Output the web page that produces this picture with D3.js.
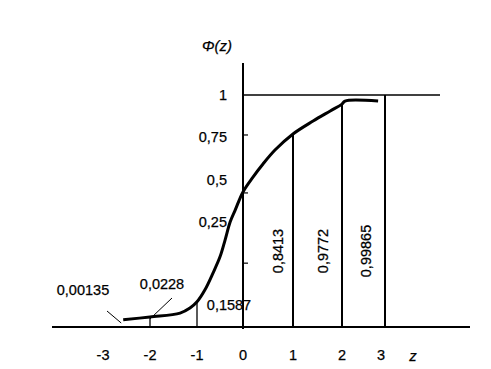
<!DOCTYPE html>
<html><head><meta charset="utf-8">
<script src="https://cdn.jsdelivr.net/npm/d3@7"></script>
<style>body{margin:0;background:#fff}svg{display:block}</style></head>
<body><svg id="c" width="491" height="369"></svg>
<script>
// ---- data ----
const xTicks = [-3, -2, -1, 0, 1, 2, 3];
const xTickLabels = ["-3", "-2", "-1", "0", "1", "2", "3"];
const yTicks = [0.25, 0.5, 0.75, 1];
const yTickLabels = ["0,25", "0,5", "0,75", "1"];
const curveZ   = [-2.57, -2, -1.36, -1.15, -1, -0.83, -0.65, -0.5, -0.39, -0.28, -0.17, 0, 0.2, 0.4, 0.64, 1, 1.41, 1.76, 2, 2.07, 2.84];
const curvePhi = [0.017, 0.024, 0.033, 0.045, 0.060, 0.088, 0.129, 0.167, 0.207, 0.25, 0.321, 0.429, 0.517, 0.593, 0.674, 0.768, 0.845, 0.905, 0.946, 0.964, 0.964];
const markerZ = [-2, -1, 1, 2, 3];
const markerPhi = [0.024, 0.060, 0.768, 0.946, 1];
const markerLabels = ["0,0228", "0,1587", "0,8413", "0,9772", "0,99865"];
const tailLabel = "0,00135";
const axisMarkPhi = [0.152, 0.423, 0.762];
const yTitle = "\u03A6(z)";
const xTitle = "z";

// ---- scales ----
const x = d3.scaleLinear().domain(xTicks).range([103, 150, 197, 243, 293, 342, 385]);
const y = d3.scaleLinear().domain([0, 0.25, 0.5, 0.75, 1]).range([327, 222, 180, 137, 95]);

const svg = d3.select("#c");
const font = "'Liberation Sans', Arial, sans-serif";
const fs = 14.5;

// axes
svg.append("line").attr("x1", 52).attr("x2", 470).attr("y1", y(0)).attr("y2", y(0))
  .attr("stroke", "#000").attr("stroke-width", 2);
svg.append("line").attr("x1", x(0)).attr("x2", x(0)).attr("y1", 63).attr("y2", y(0) + 2)
  .attr("stroke", "#000").attr("stroke-width", 2);
// Phi = 1 line
svg.append("line").attr("x1", x(0)).attr("x2", 440).attr("y1", y(1)).attr("y2", y(1))
  .attr("stroke", "#000").attr("stroke-width", 1.5);

// small ticks on y axis
svg.selectAll(".ym").data(axisMarkPhi).join("line")
  .attr("x1", x(0)).attr("x2", x(0) + 5)
  .attr("y1", d => y(d)).attr("y2", d => y(d))
  .attr("stroke", "#000").attr("stroke-width", 1.2);

// marker vertical lines
svg.selectAll(".mk").data(markerZ).join("line")
  .attr("x1", d => x(d)).attr("x2", d => x(d))
  .attr("y1", y(0)).attr("y2", (d, i) => y(markerPhi[i]))
  .attr("stroke", "#000").attr("stroke-width", (d, i) => i < 2 ? 1.3 : 2);

// curve
const line = d3.line().x(d => x(d[0])).y(d => y(d[1])).curve(d3.curveCatmullRom.alpha(0.5));
svg.append("path").datum(curveZ.map((z, i) => [z, curvePhi[i]]))
  .attr("d", line).attr("fill", "none").attr("stroke", "#000").attr("stroke-width", 3)
  .attr("stroke-linecap", "butt");

function txt(sel) {
  return sel.attr("font-family", font).attr("font-size", fs)
    .attr("stroke", "#000").attr("stroke-width", 0.25).attr("fill", "#000");
}

// x tick labels
txt(svg.selectAll(".xl").data(xTicks).join("text"))
  .attr("x", d => x(d) - (d === 3 ? 4 : 0)).attr("y", 355)
  .attr("text-anchor", "middle").attr("dominant-baseline", "central")
  .text((d, i) => xTickLabels[i]);

// y tick labels
txt(svg.selectAll(".yl").data(yTicks).join("text"))
  .attr("x", 227).attr("y", d => y(d))
  .attr("text-anchor", "end").attr("dominant-baseline", "central")
  .text((d, i) => yTickLabels[i]);

// titles
txt(svg.append("text")).attr("x", 217).attr("y", 45).attr("text-anchor", "middle")
  .attr("dominant-baseline", "central").attr("font-style", "italic")
  .attr("font-size", 15).text(yTitle);
txt(svg.append("text")).attr("x", 413).attr("y", 355).attr("text-anchor", "middle")
  .attr("dominant-baseline", "central").attr("font-style", "italic")
  .attr("font-size", 15).text(xTitle);

// rotated marker labels (z = 1, 2, 3)
[2, 3, 4].forEach(i => {
  const cx = x(markerZ[i]) - (i === 2 ? 15 : 19);
  txt(svg.append("text")).attr("transform", `translate(${cx},251) rotate(-90)`)
    .attr("text-anchor", "middle").attr("dominant-baseline", "central")
    .text(markerLabels[i]);
});

// 0,1587 label
txt(svg.append("text")).attr("x", x(-1) + 32).attr("y", 305).attr("text-anchor", "middle")
  .attr("dominant-baseline", "central").text(markerLabels[1]);

// 0,0228 label with leader
txt(svg.append("text")).attr("x", x(-2) + 12).attr("y", 284).attr("text-anchor", "middle")
  .attr("dominant-baseline", "central").text(markerLabels[0]);
svg.append("line").attr("x1", x(-2) + 22).attr("y1", 298).attr("x2", x(-2)).attr("y2", y(markerPhi[0]) + 2)
  .attr("stroke", "#000").attr("stroke-width", 1);

// 0,00135 label with leader
txt(svg.append("text")).attr("x", 83).attr("y", 290).attr("text-anchor", "middle")
  .attr("dominant-baseline", "central").text(tailLabel);
svg.append("line").attr("x1", 107).attr("y1", 311).attr("x2", x(curveZ[0]) - 2).attr("y2", y(0) - 4)
  .attr("stroke", "#000").attr("stroke-width", 1);
</script></body></html>
